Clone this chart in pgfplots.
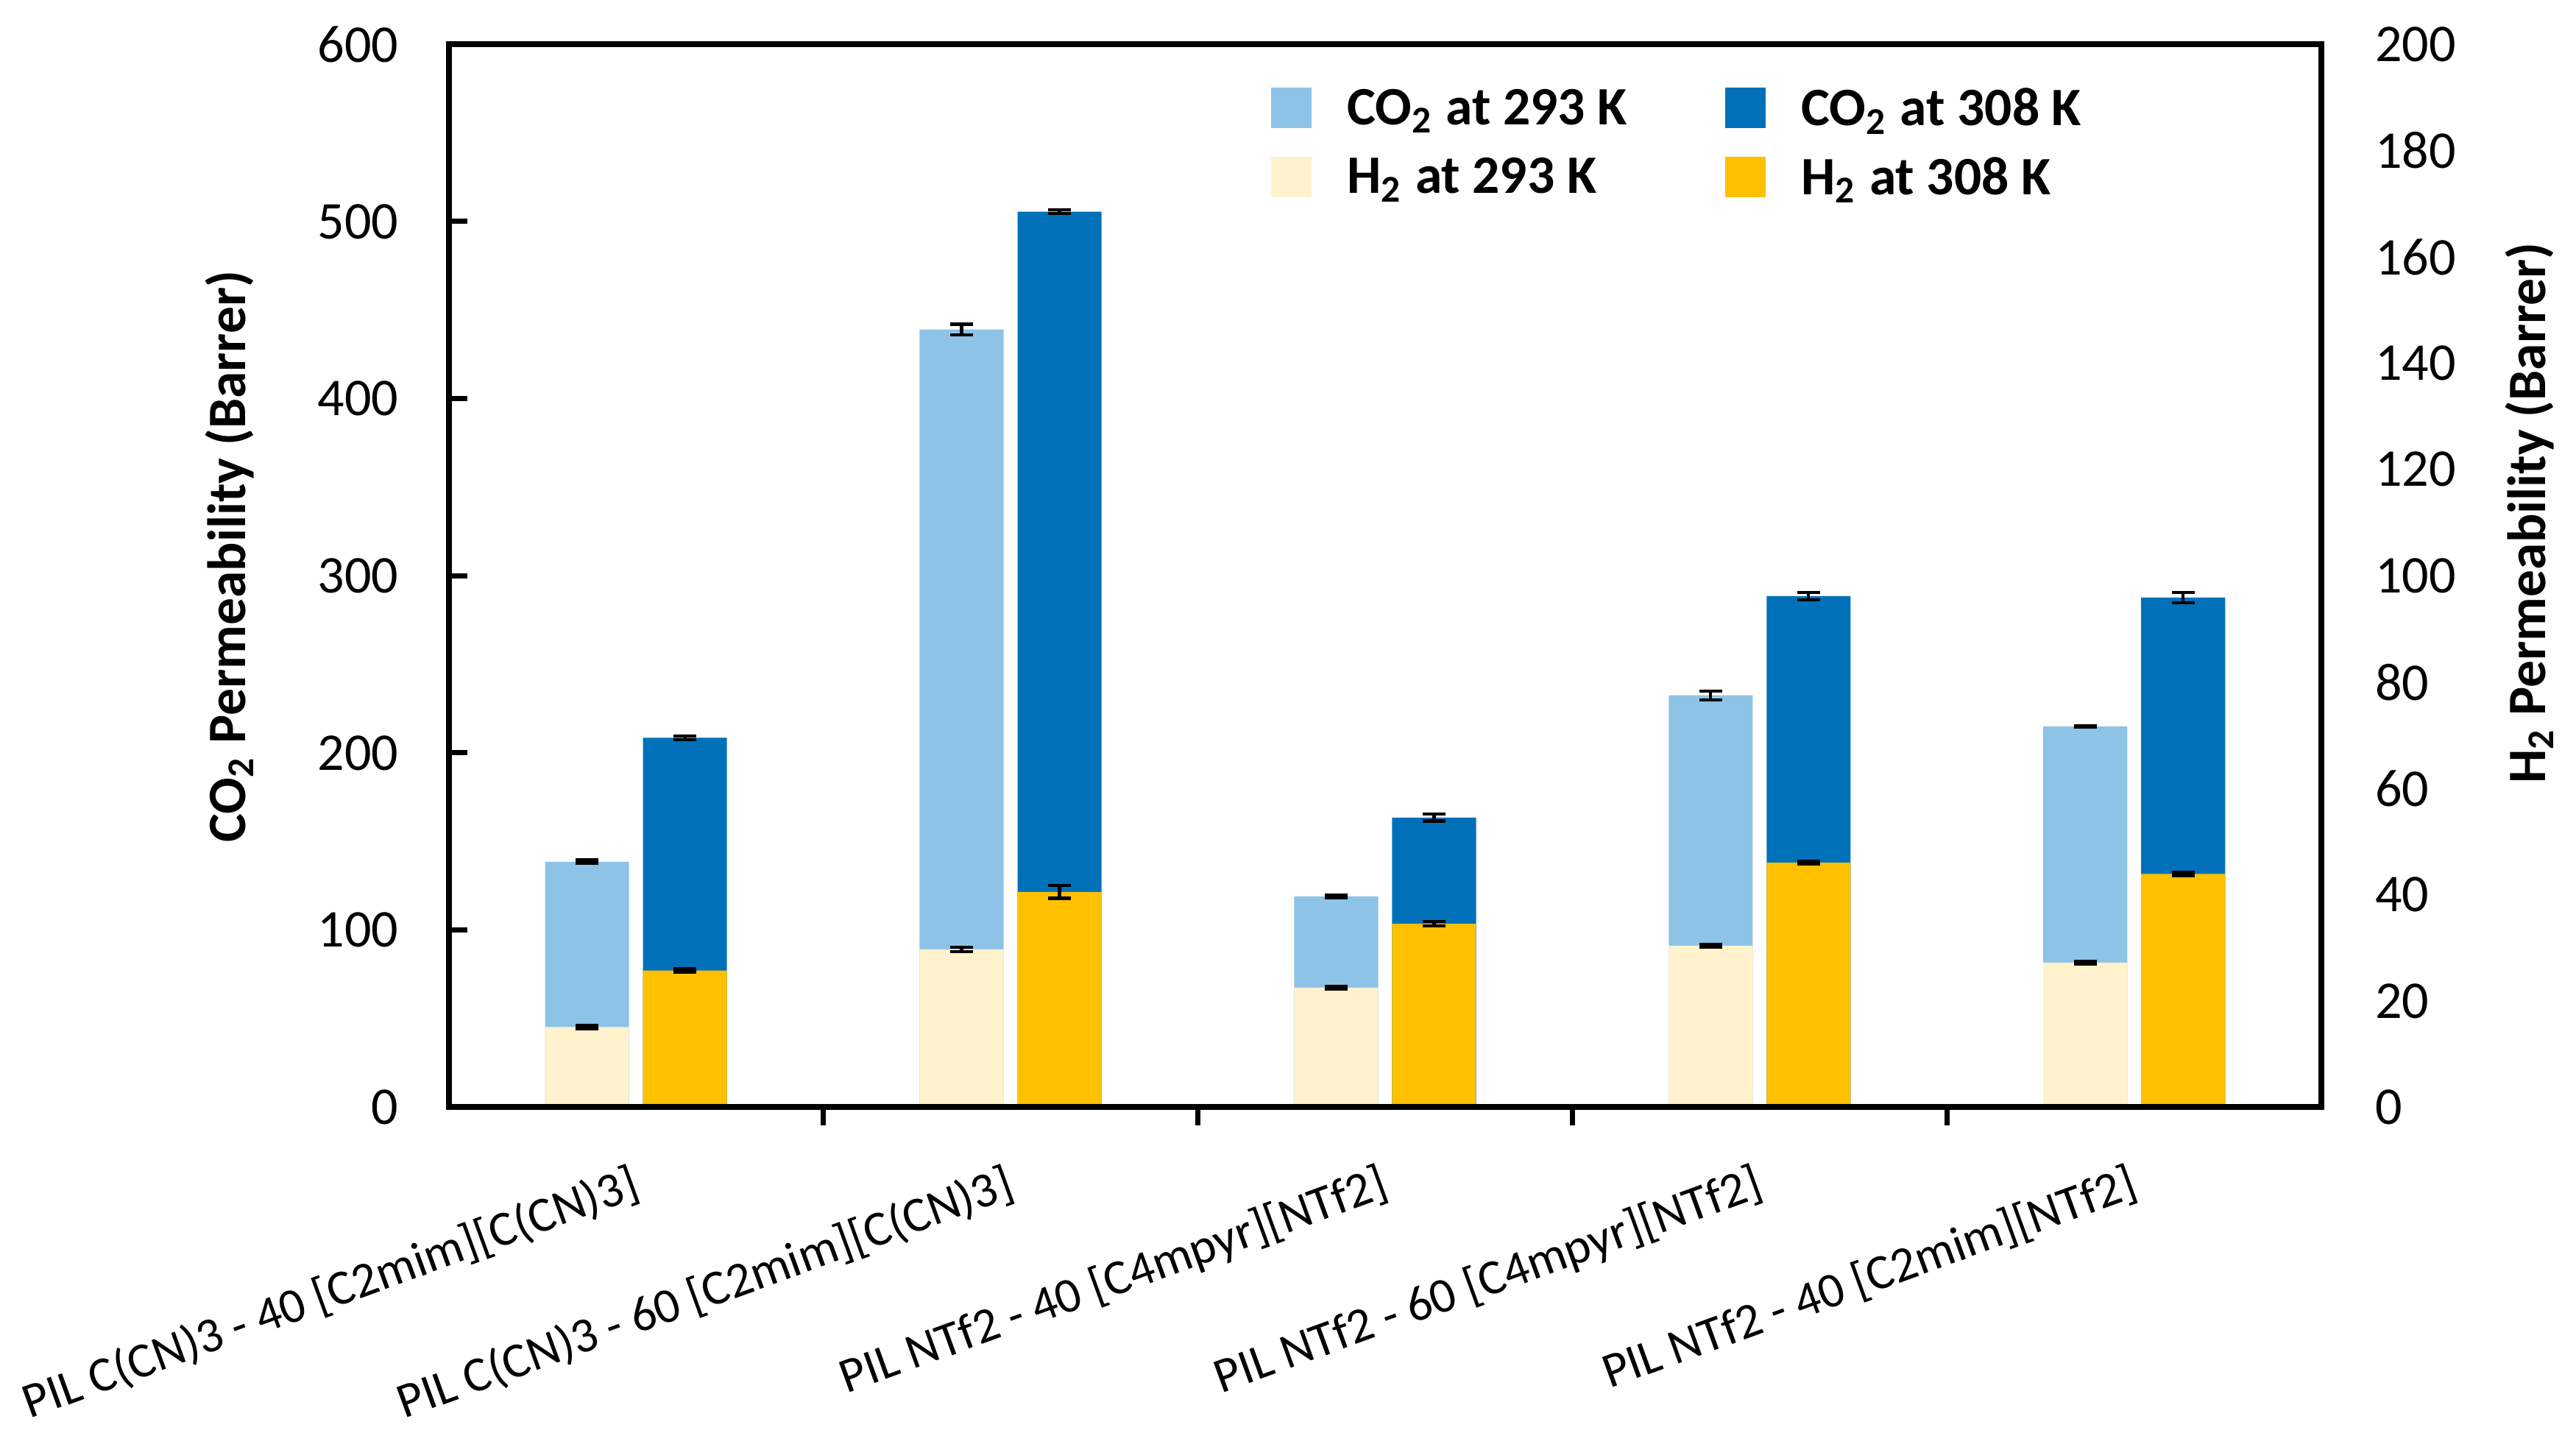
\documentclass[border=0pt]{standalone}
\usepackage{fontspec}
\setmainfont{Carlito}
\usepackage{pgfplots}
\usepackage{pgfplotstable}
\pgfplotsset{compat=1.18}
\definecolor{cobl}{HTML}{8EC3E8}
\definecolor{codb}{HTML}{0071B9}
\definecolor{hly}{HTML}{FFF2CC}
\definecolor{hgo}{HTML}{FFC000}
\pgfplotstableread{
x co293 e1 co308 e2
0 138.5 1.0 208.5 1.0
1 439 3.0 505.5 1.0
2 119 0.7 163.5 2.0
3 232.5 2.5 288.5 2.0
4 215 0.5 287.7 3.0
}\codata
\pgfplotstableread{
x h293 e1 h308 e2
0 15.1 0.3 25.7 0.3
1 29.7 0.4 40.5 1.2
2 22.5 0.3 34.5 0.4
3 30.4 0.3 46.0 0.3
4 27.2 0.3 43.9 0.3
}\hdata
\begin{document}
\begin{tikzpicture}
\useasboundingbox (-87.1pt,-63.2pt) rectangle (412.9pt,214.9pt);
\pgfplotsset{
  common/.style={
    at={(0,0)}, anchor=south west,
    scale only axis, width=363.5pt, height=206.3pt,
    xmin=-0.5, xmax=4.5, ymin=0,
    axis line style={line width=1.1pt, black},
    tick align=inside,
    major tick length=3.6pt,
    tick style={line width=1pt, black},
    ybar, bar width=16.3pt,
    /pgf/number format/assume math mode=true,
    axis on top,
  },
  errs/.style={
    error bars/.cd, y dir=both, y explicit,
    error bar style={black, line width=0.6pt},
    error mark options={rotate=90, mark size=2.2pt, black, line width=0.6pt},
  },
}
\begin{axis}[
  common,
  ymax=600, ytick={0,100,...,600}, ytick pos=left,
  yticklabel style={anchor=east, inner sep=0pt, xshift=-9.6pt, font=\fontsize{10.3}{12}\selectfont},
  xtick={0.5,1.5,2.5,3.5}, xticklabels={,,,}, xtick pos=bottom,
  ylabel={\textbf{CO\textsubscript{2} Permeability (Barrer)}},
  ylabel style={at={(axis description cs:-0.117,0.518)}, anchor=center, font=\fontsize{10.5}{12}\selectfont},
]
\addplot[fill=cobl, draw=none, bar shift=-9.5pt, forget plot, errs] table[x=x, y=co293, y error=e1] {\codata};
\addplot[fill=codb, draw=none, bar shift=9.5pt, forget plot, errs] table[x=x, y=co308, y error=e2] {\codata};
\end{axis}
\begin{axis}[
  common,
  ymax=200, ytick={0,20,...,200}, ytick pos=right,
  tick style={draw=none},
  yticklabel style={anchor=west, inner sep=0pt, xshift=10.2pt, font=\fontsize{10.3}{12}\selectfont},
  xtick={0,1,2,3,4}, xtick pos=bottom,
  xticklabels={{PIL C(CN)3 - 40 [C2mim][C(CN)3]},{PIL C(CN)3 - 60 [C2mim][C(CN)3]},{PIL NTf2 - 40 [C4mpyr][NTf2]},{PIL NTf2 - 60 [C4mpyr][NTf2]},{PIL NTf2 - 40 [C2mim][NTf2]}},
  xticklabel style={rotate=20, anchor=north east, inner sep=1pt, xshift=-2.5pt, yshift=-5pt, font=\fontsize{9.6}{11}\selectfont},
  ylabel={\textbf{H\textsubscript{2} Permeability (Barrer)}},
  ylabel style={at={(axis description cs:1.111,0.559)}, anchor=center, font=\fontsize{10.5}{12}\selectfont},
  legend columns=2,
  legend cell align=left,
  legend image code/.code={\fill[#1] (0pt,-3.4pt) rectangle (7.9pt,4.5pt);},
  legend style={draw=none, fill=none, inner sep=0pt, at={(rel axis cs:0.4385,1)}, anchor=north west, yshift=-8.2pt,
    font=\bfseries\fontsize{10.5}{12}\selectfont, nodes={inner sep=0pt},
    /tikz/every odd column/.append style={column sep=6.9pt},
    /tikz/every even column/.append style={column sep=19pt},
    row sep=4.5pt},
]
\addlegendimage{fill=cobl, draw=none}
\addlegendentry{CO\textsubscript{2} at 293 K}
\addlegendimage{fill=codb, draw=none}
\addlegendentry{CO\textsubscript{2} at 308 K}
\addlegendimage{fill=hly, draw=none}
\addlegendentry{H\textsubscript{2} at 293 K}
\addlegendimage{fill=hgo, draw=none}
\addlegendentry{H\textsubscript{2} at 308 K}
\addplot[fill=hly, draw=none, bar shift=-9.5pt, forget plot, errs] table[x=x, y=h293, y error=e1] {\hdata};
\addplot[fill=hgo, draw=none, bar shift=9.5pt, forget plot, errs] table[x=x, y=h308, y error=e2] {\hdata};
\end{axis}
\end{tikzpicture}
\end{document}
